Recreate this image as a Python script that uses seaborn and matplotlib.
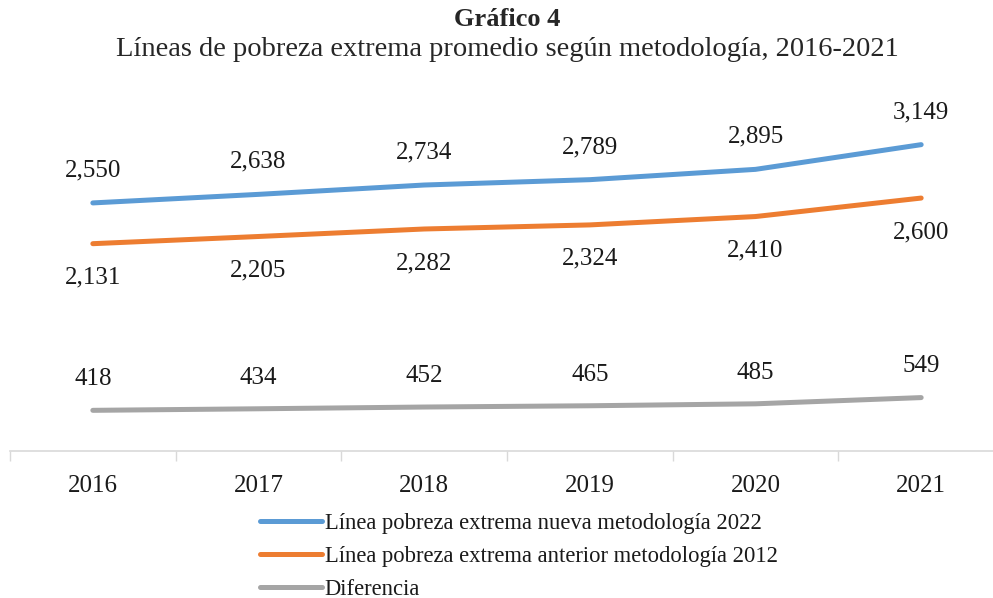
import matplotlib
matplotlib.use("Agg")
import pandas as pd
import matplotlib.pyplot as plt
import seaborn as sns
from matplotlib.ticker import FixedLocator

# -----------------------------
# Data
# -----------------------------
years = ["2016", "2017", "2018", "2019", "2020", "2021"]
nueva_2022 = [2550, 2638, 2734, 2789, 2895, 3149]
anterior_2012 = [2131, 2205, 2282, 2324, 2410, 2600]
diferencia = [418, 434, 452, 465, 485, 549]

series_names = [
    "Línea pobreza extrema nueva metodología 2022",
    "Línea pobreza extrema anterior metodología 2012",
    "Diferencia",
]
colors = ["#5B9BD5", "#ED7D31", "#A5A5A5"]

df = pd.DataFrame({
    "year": years * 3,
    "value": nueva_2022 + anterior_2012 + diferencia,
    "serie": [s for s in series_names for _ in years],
})
df["pos"] = df["year"].map({y: i for i, y in enumerate(years)})

# -----------------------------
# Plot
# -----------------------------
sns.set_style("white")
plt.rcParams["font.family"] = ["Liberation Serif", "DejaVu Serif"]

fig = plt.figure(figsize=(9.93, 5.98), dpi=100)
ax = fig.add_axes([10 / 993, 147 / 598, 994 / 993, 340.5 / 598])

sns.lineplot(
    data=df,
    x="pos",
    y="value",
    hue="serie",
    hue_order=series_names,
    palette=colors,
    linewidth=3.6,
    ax=ax,
)

# value labels
offsets = {series_names[0]: 23.5, series_names[1]: -24.5, series_names[2]: 22.5}
for _, row in df.iterrows():
    ax.annotate(
        f"{row['value']:,}",
        (row["pos"], row["value"]),
        xytext=(0, offsets[row["serie"]]),
        textcoords="offset points",
        ha="center",
        va="center",
        fontsize=18,
        color="#1a1a1a",
    )

ax.set_xlim(-0.5, len(years) - 0.5)
ax.set_ylim(0, 3500)
ax.set_xlabel("")
ax.set_ylabel("")
ax.set_yticks([])
ax.set_xticks(range(len(years)))
ax.set_xticklabels(years, fontsize=18, color="#1a1a1a")
ax.xaxis.set_minor_locator(FixedLocator([i - 0.5 for i in range(len(years) + 1)]))
ax.tick_params(axis="x", which="major", length=0, pad=17)
ax.tick_params(axis="x", which="minor", bottom=True, length=7, width=1,
               color="#D9D9D9")

for side in ["top", "right", "left"]:
    ax.spines[side].set_visible(False)
ax.spines["bottom"].set_color("#D9D9D9")
ax.spines["bottom"].set_linewidth(1.2)

leg = ax.legend(
    loc="upper left",
    bbox_to_anchor=(240 / 993, 1 - 493 / 598),
    bbox_transform=fig.transFigure,
    frameon=False,
    fontsize=16.3,
    handlelength=2.7,
    handletextpad=0.15,
    labelspacing=0.52,
)
for t in leg.get_texts():
    t.set_color("#1a1a1a")

fig.text(0.511, 1 - 20 / 598, "Gráfico 4", ha="center", va="center",
         fontsize=19, fontweight="bold")
fig.text(0.511, 1 - 50 / 598,
         "Líneas de pobreza extrema promedio según metodología, 2016-2021",
         ha="center", va="center", fontsize=20.5)

plt.savefig("out.png", dpi=100)
plt.close()
